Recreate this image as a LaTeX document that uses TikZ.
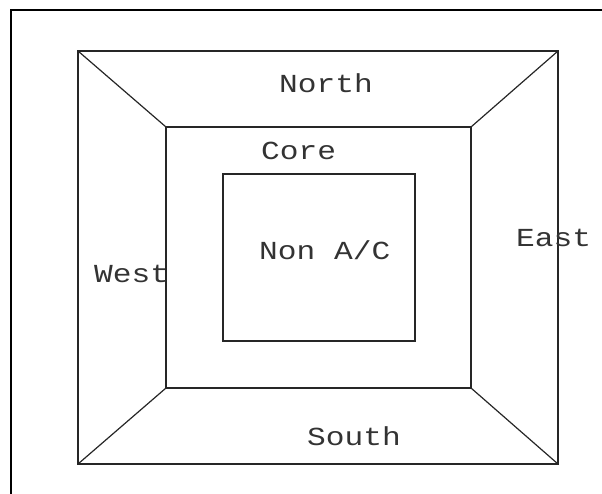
\documentclass[tikz,border=0pt]{standalone}
\usepackage{fontspec}
\newfontfamily\cadfont[FakeStretch=1.2]{Liberation Mono}
\tikzset{
  wall/.style={draw=black!85, line width=1.2pt},
  frameline/.style={draw=black, line width=1.5pt},
  zonelabel/.style={anchor=base west, inner sep=0pt, font=\cadfont\fontsize{26}{26}\selectfont, text=black!80}
}
\begin{document}
\begin{tikzpicture}[x=1pt,y=-1pt]
\useasboundingbox (0,0) rectangle (602,494);
% page frame (only left and top edges visible)
\coordinate (fb) at (11,494);
\coordinate (ft) at (11,10);
\coordinate (fr) at (602,10);
\draw[frameline] (fb) -- (ft) -- (fr);
% outer square
\coordinate (o1) at (78,51);
\coordinate (o2) at (558,51);
\coordinate (o3) at (558,464);
\coordinate (o4) at (78,464);
% core rectangle
\coordinate (c1) at (166,127);
\coordinate (c2) at (471,127);
\coordinate (c3) at (471,388);
\coordinate (c4) at (166,388);
% non A/C rectangle
\coordinate (n1) at (223,174);
\coordinate (n2) at (415,174);
\coordinate (n3) at (415,341);
\coordinate (n4) at (223,341);
\draw[wall] (o1) -- (o2) -- (o3) -- (o4) -- cycle;
\draw[wall] (c1) -- (c2) -- (c3) -- (c4) -- cycle;
\draw[wall] (n1) -- (n2) -- (n3) -- (n4) -- cycle;
\draw[wall] (o1) -- (c1);
\draw[wall] (o2) -- (c2);
\draw[wall] (o3) -- (c3);
\draw[wall] (o4) -- (c4);
% labels
\node[zonelabel] (north) at (279,93) {North};
\node[zonelabel] (core) at (261,160) {Core};
\node[zonelabel] (nonac) at (259,259) {Non A/C};
\node[zonelabel] (west) at (94,283) {West};
\node[zonelabel] (east) at (516,247) {East};
\node[zonelabel] (south) at (307,445) {South};
\end{tikzpicture}
\end{document}
